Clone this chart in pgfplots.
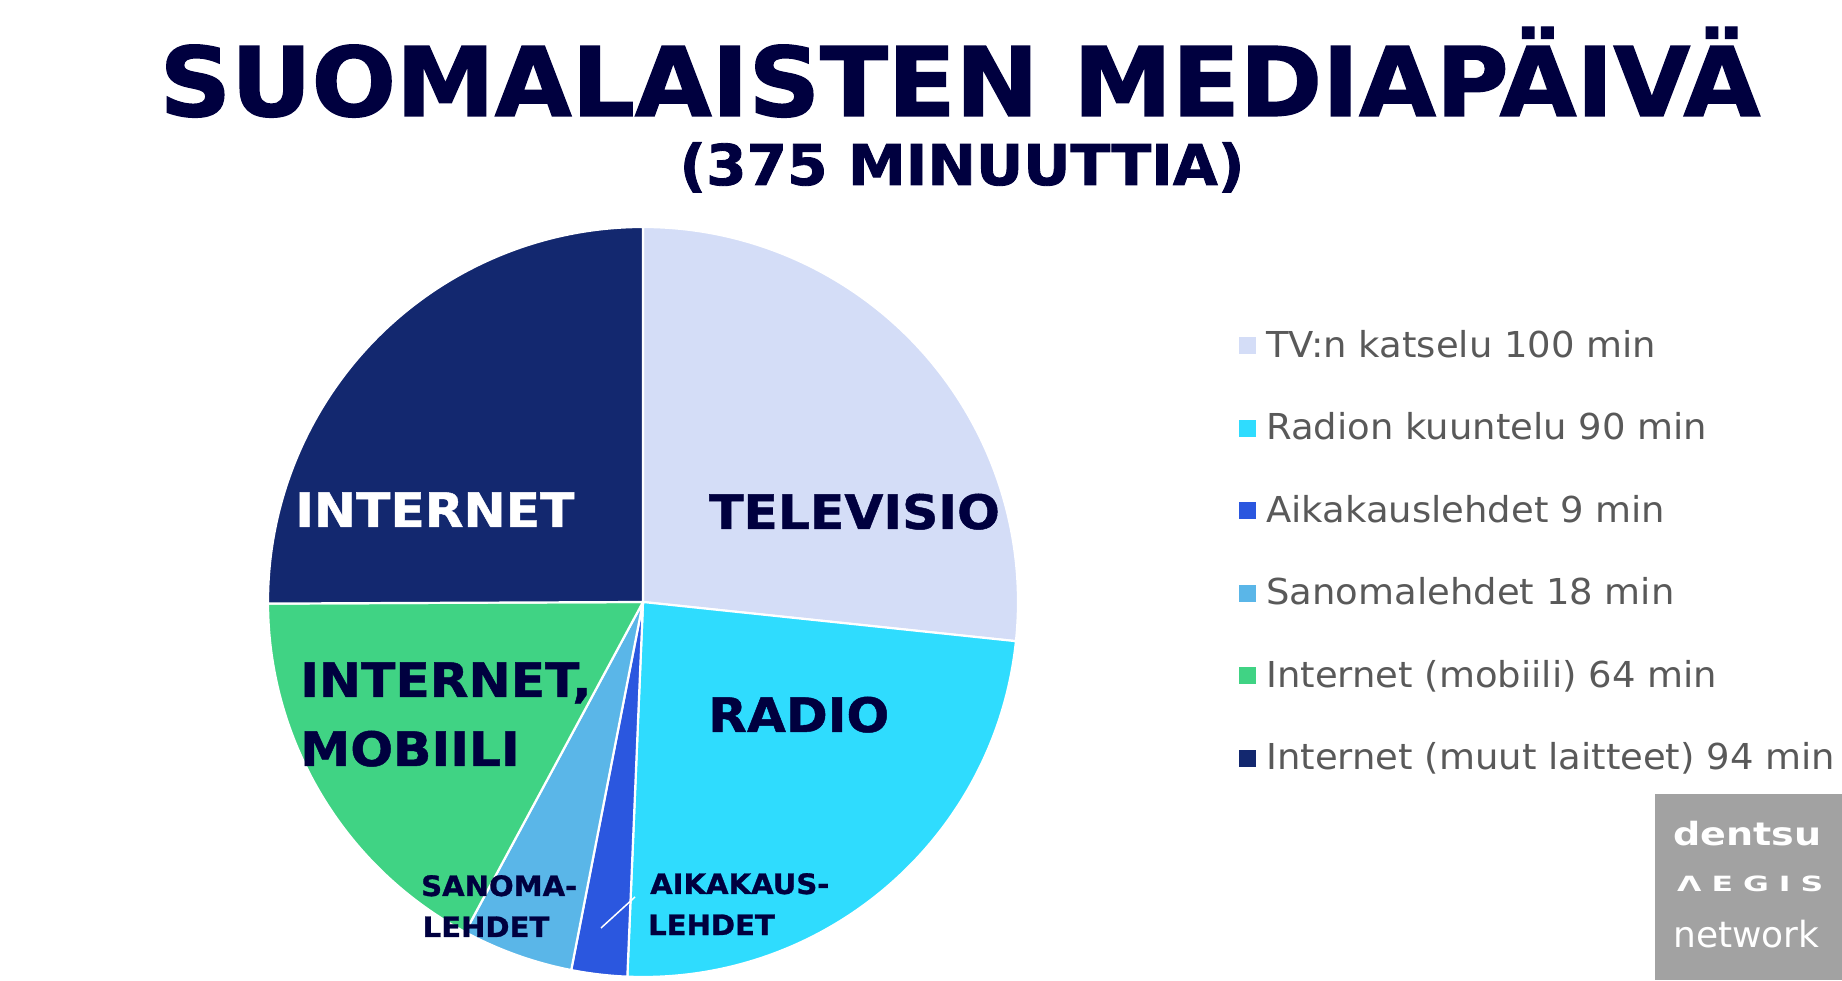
\documentclass[border=0pt]{standalone}
\usepackage{fontspec}
\setmainfont{DejaVu Sans}
\newfontfamily\titlefont[FakeStretch=1.034, FakeBold=1.5]{DejaVu Sans Bold}
\newfontfamily\subtitlefont[FakeStretch=1.035, FakeBold=1.5]{DejaVu Sans Bold}
\newfontfamily\labelfont[FakeStretch=1.06, FakeBold=1]{DejaVu Sans Bold}
\newfontfamily\smalllabelfont[FakeStretch=1.035, FakeBold=1]{DejaVu Sans Bold}
\newfontfamily\legendfont[FakeStretch=1.035]{DejaVu Sans}
\newfontfamily\logofont[FakeStretch=1.19]{DejaVu Sans Bold}
\newfontfamily\aegisfont[FakeStretch=1.5]{DejaVu Sans Bold}
\usepackage{pgfplots}
\usepackage{pgfplotstable}
\pgfplotsset{compat=1.18}

\definecolor{cTV}{HTML}{D4DDF7}
\definecolor{cRadio}{HTML}{2FDCFE}
\definecolor{cAika}{HTML}{2B57DF}
\definecolor{cSanoma}{HTML}{5AB6E8}
\definecolor{cMobiili}{HTML}{40D384}
\definecolor{cMuut}{HTML}{13286F}
\definecolor{titlecol}{HTML}{00003F}
\definecolor{legendgray}{HTML}{595959}
\definecolor{logogray}{HTML}{A2A2A2}

\pgfplotstableread{
value color
100 cTV
90 cRadio
9 cAika
18 cSanoma
64 cMobiili
94 cMuut
}\mediadata

\begin{document}
\begin{tikzpicture}
\path[use as bounding box] (0pt,0pt) rectangle (1842pt,980pt);
\begin{axis}[
  at={(643pt,378pt)}, anchor=center,
  scale only axis, width=750pt, height=750pt,
  xmin=-1, xmax=1, ymin=-1, ymax=1,
  hide axis, clip=false,
  legend image code/.code={\fill[#1, draw=none] (0pt,-6.5pt) rectangle (17pt,10.5pt); \path (27pt,0pt);},
  legend cell align=left,
  legend style={at={(1.29467,0.86133)}, anchor=north west, draw=none, fill=none,
    inner sep=0pt, row sep=49.5pt, column sep=0pt,
    font=\legendfont\fontsize{35.7}{40}\selectfont, text=legendgray,
    nodes={inner sep=0pt, text height=26pt, text depth=7pt}},
]
\def\cum{0}
\def\total{0}
\pgfplotsforeachungrouped \i in {0,1,2,3,4,5}{%
  \pgfplotstablegetelem{\i}{value}\of\mediadata
  \pgfmathsetmacro\total{\total+\pgfplotsretval}%
}
\pgfplotsforeachungrouped \i in {0,1,2,3,4,5}{%
  \pgfplotstablegetelem{\i}{value}\of\mediadata
  \let\val\pgfplotsretval
  \pgfplotstablegetelem{\i}{color}\of\mediadata
  \let\col\pgfplotsretval
  \pgfmathsetmacro\sa{90-\cum/\total*360}%
  \pgfmathsetmacro\ea{90-(\cum+\val)/\total*360}%
  \pgfmathsetmacro\xa{cos(\sa)}%
  \pgfmathsetmacro\ya{sin(\sa)}%
  \edef\doslice{\noexpand\fill[fill=\col, draw=white, line width=2.2pt, line join=round]
    (axis cs:0,0) -- (axis cs:\xa,\ya) arc[start angle=\sa, end angle=\ea, radius=375pt] -- cycle;}%
  \doslice
  \pgfmathsetmacro\cum{\cum+\val}%
}
\addlegendimage{fill=cTV}\addlegendentry{TV:n katselu 100 min}
\addlegendimage{fill=cRadio}\addlegendentry{Radion kuuntelu 90 min}
\addlegendimage{fill=cAika}\addlegendentry{Aikakauslehdet 9 min}
\addlegendimage{fill=cSanoma}\addlegendentry{Sanomalehdet 18 min}
\addlegendimage{fill=cMobiili}\addlegendentry{Internet (mobiili) 64 min}
\addlegendimage{fill=cMuut}\addlegendentry{Internet (muut laitteet) 94 min}
\end{axis}

% titles
\node[anchor=base, inner sep=0pt, text=titlecol, font=\titlefont\fontsize{96}{100}\selectfont] at (960pt,864pt) {SUOMALAISTEN MEDIAPÄIVÄ};
\node[anchor=base, inner sep=0pt, text=titlecol, font=\subtitlefont\fontsize{56.2}{60}\selectfont] at (962pt,795pt) {(375 MINUUTTIA)};

% slice labels
\begin{scope}[every node/.style={anchor=base west, inner sep=0pt, text=titlecol, font=\labelfont\fontsize{47.5}{50}\selectfont}]
\node at (709pt,451pt) {TELEVISIO};
\node[text=white] at (295pt,453pt) {INTERNET};
\node at (300pt,283pt) {INTERNET,};
\node at (300pt,214pt) {MOBIILI};
\node at (708pt,248pt) {RADIO};
\end{scope}
\begin{scope}[every node/.style={anchor=base west, inner sep=0pt, text=titlecol, font=\smalllabelfont\fontsize{28.1}{30}\selectfont}]
\node at (421pt,84pt) {SANOMA-};
\node at (422.5pt,43pt) {LEHDET};
\node at (650pt,86pt) {AIKAKAUS-};
\node at (648pt,45pt) {LEHDET};
\end{scope}
\draw[white, line width=1.5pt] (601pt,52pt) -- (635pt,83pt);

% logo
\fill[logogray] (1655pt,0pt) rectangle (1842pt,186pt);
\node[anchor=base west, inner sep=0pt, text=white, font=\logofont\fontsize{32}{36}\selectfont] at (1673pt,134pt) {dentsu};
\node[anchor=base west, inner sep=0pt, text=white, font=\aegisfont\fontsize{21}{24}\selectfont] at (1677pt,88pt) {Λ\hspace{10pt}E\hspace{10pt}G\hspace{10pt}I\hspace{10pt}S};
\node[anchor=base west, inner sep=0pt, text=white, font=\fontsize{36}{40}\selectfont] at (1673pt,33pt) {network};
\end{tikzpicture}
\end{document}
